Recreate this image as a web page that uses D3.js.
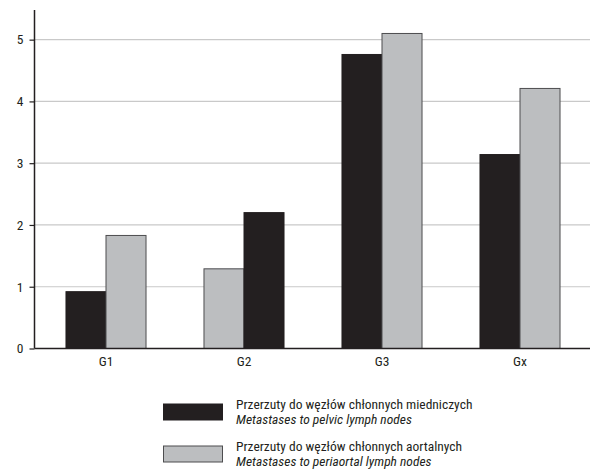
<!DOCTYPE html>
<html>
<head>
<meta charset="utf-8">
<script src="https://cdn.jsdelivr.net/npm/d3@7"></script>
<style>
  body { margin: 0; background: #fff; }
  svg { display: block; }
  text { font-family: "Liberation Sans Narrow", "Roboto Condensed", "Open Sans", sans-serif; fill: #231f20; }
</style>
</head>
<body>
<svg id="chart" width="590" height="475"></svg>
<script>
const categories = ["G1", "G2", "G3", "Gx"];
const pelvic = [0.92, 2.20, 4.76, 3.14];
const periaortal = [1.83, 1.29, 5.10, 4.21];
// bar order within each group as drawn (G2 shows the periaortal bar first)
const barOrder = [
  ["pelvic", "periaortal"],
  ["periaortal", "pelvic"],
  ["pelvic", "periaortal"],
  ["pelvic", "periaortal"]
];
const yTicks = [0, 1, 2, 3, 4, 5];
const legendPl = ["Przerzuty do węzłów chłonnych miedniczych", "Przerzuty do węzłów chłonnych aortalnych"];
const legendEn = ["Metastases to pelvic lymph nodes", "Metastases to periaortal lymph nodes"];

const series = { pelvic: pelvic, periaortal: periaortal };
const fills = { pelvic: "#231f20", periaortal: "#bcbec0" };
const strokes = { pelvic: "#231f20", periaortal: "#4d4d4f" };

const svg = d3.select("#chart");
const mLeft = 34.5, mRight = 590, mTop = 10, mBottom = 348.5;
const fs = 13.5;

const y = d3.scaleLinear().domain([0, 5.48]).range([mBottom, mTop]);
const x = d3.scaleBand().domain(categories).range([37, 589]).padding(0);
const bw = x.bandwidth();

// gridlines
svg.append("g").selectAll("line").data(yTicks.filter(d => d > 0)).join("line")
  .attr("x1", mLeft).attr("x2", mRight)
  .attr("y1", d => y(d)).attr("y2", d => y(d))
  .attr("stroke", "#c9c9c9").attr("stroke-width", 1.2);

// bars
categories.forEach((c, i) => {
  const inner = d3.scaleBand().domain(barOrder[i]).range([bw * 0.21, bw * 0.79]);
  const g = svg.append("g").attr("transform", `translate(${x(c)},0)`);
  g.selectAll("rect").data(barOrder[i]).join("rect")
    .attr("x", s => inner(s))
    .attr("width", inner.bandwidth())
    .attr("y", s => y(series[s][i]))
    .attr("height", s => y(0) - y(series[s][i]))
    .attr("fill", s => fills[s])
    .attr("stroke", s => strokes[s])
    .attr("stroke-width", 1);
});

// y axis
const yAxis = d3.axisLeft(y).tickValues(yTicks).tickSize(5).tickPadding(6).tickFormat(d3.format("d"));
const ya = svg.append("g").attr("transform", `translate(${mLeft},0)`).call(yAxis);
ya.attr("font-family", null).attr("font-size", null);
ya.select(".domain").attr("stroke", "#231f20").attr("stroke-width", 1.5).attr("d", `M0,${mTop}V${mBottom}`);
ya.selectAll(".tick line").attr("stroke", "#231f20").attr("stroke-width", 1.2);
ya.selectAll(".tick text").attr("font-size", fs);

// x axis
const xAxis = d3.axisBottom(x).tickSize(0).tickPadding(8);
const xa = svg.append("g").attr("transform", `translate(0,${mBottom})`).call(xAxis);
xa.attr("font-family", null).attr("font-size", null);
xa.select(".domain").attr("stroke", "#231f20").attr("stroke-width", 1.5).attr("d", `M${mLeft},0H${mRight}`);
xa.selectAll(".tick text").attr("font-size", fs);

// legend
const legend = svg.append("g");
const keys = ["pelvic", "periaortal"];
keys.forEach((k, i) => {
  const gy = 404 + i * 42;
  legend.append("rect").attr("x", 163.5).attr("y", gy).attr("width", 59).attr("height", 16)
    .attr("fill", fills[k]).attr("stroke", strokes[k]).attr("stroke-width", 1);
  legend.append("text").attr("x", 236).attr("y", gy + 5).attr("font-size", fs).text(legendPl[i]);
  legend.append("text").attr("x", 236).attr("y", gy + 20).attr("font-size", fs)
    .attr("font-style", "italic").text(legendEn[i]);
});
</script>
</body>
</html>
